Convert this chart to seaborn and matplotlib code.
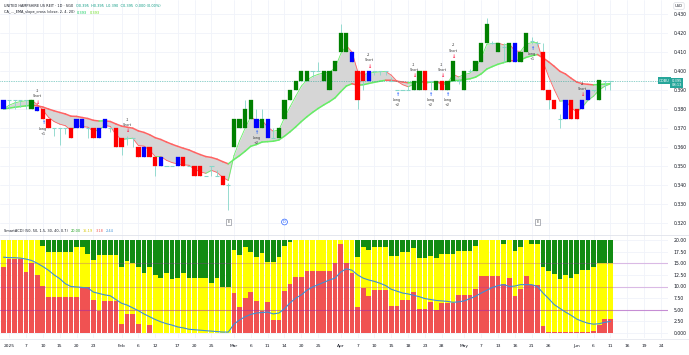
import numpy as np
import pandas as pd
import matplotlib
matplotlib.use("Agg")
import matplotlib.pyplot as plt
from matplotlib.lines import Line2D
import seaborn as sns

W, H = 689, 355

# daily candles (Jan 2 .. Jun 11 2025), one entry per session
opens = [.385, .385, .385, .385, .385, .380, .381, .380, .375, .370,
         .370, .370, .370, .370, .375, .370, .370, .365, .370, .370,
         .370, .365, .365, .365, .360, .355, .360, .355, .350, .350,
         .350, .355, .355, .350, .350, .350, .345, .350, .345, .345,
         .340, .360, .370, .370, .375, .375, .370, .375, .365, .365,
         .375, .385, .390, .395, .395, .400, .400, .395, .390, .400,
         .410, .410, .410, .400, .400, .395, .400, .400, .400, .395,
         .390, .390, .390, .390, .390, .400, .395, .390, .395, .390,
         .395, .395, .390, .400, .400, .405, .415, .415, .410, .4125,
         .405, .415, .405, .410, .416, .415, .410, .390, .385, .375,
         .375, .385, .380, .380, .385, .390, .385, .395, .395]
closes = [.380, .385, .385, .385, .385, .385, .379, .375, .370, .370,
          .370, .370, .365, .375, .370, .370, .365, .370, .375, .370,
          .360, .360, .365, .365, .355, .360, .355, .350, .355, .350,
          .350, .350, .350, .350, .345, .345, .345, .350, .345, .340,
          .340, .375, .375, .380, .385, .370, .375, .365, .365, .370,
          .385, .390, .395, .400, .400, .400, .400, .400, .400, .405,
          .420, .420, .405, .385, .395, .400, .400, .400, .400, .395,
          .390, .390, .390, .395, .400, .390, .395, .395, .390, .395,
          .405, .395, .400, .400, .405, .415, .425, .415, .415, .4125,
          .415, .405, .410, .420, .416, .415, .390, .385, .380, .375,
          .385, .375, .375, .385, .390, .390, .395, .395, .395]
highs = [.385, .385, .385, .385, .385, .385, .381, .380, .375, .370,
         .370, .370, .370, .375, .375, .370, .370, .370, .375, .370,
         .370, .365, .366, .365, .360, .360, .360, .355, .355, .350,
         .350, .355, .355, .350, .350, .350, .345, .350, .348, .345,
         .341, .375, .375, .385, .385, .380, .380, .375, .370, .370,
         .385, .390, .395, .400, .400, .400, .405, .400, .400, .405,
         .425, .420, .410, .400, .400, .400, .400, .400, .400, .397,
         .390, .390, .392, .395, .400, .400, .395, .395, .395, .395,
         .405, .396, .400, .401, .405, .415, .428, .416, .415, .415,
         .415, .415, .410, .420, .418, .416, .415, .390, .385, .3775,
         .385, .385, .380, .385, .390, .390, .395, .395, .395]
lows = [.380, .380, .380, .381, .380, .380, .379, .375, .370, .366,
        .361, .367, .365, .370, .370, .365, .365, .365, .370, .368,
        .360, .356, .361, .360, .355, .355, .355, .345, .350, .350,
        .350, .350, .350, .350, .345, .345, .345, .345, .345, .340,
        .327, .360, .370, .370, .375, .370, .370, .365, .365, .365,
        .375, .385, .390, .395, .395, .397, .400, .395, .390, .400,
        .410, .410, .405, .380, .390, .395, .398, .398, .398, .395,
        .390, .390, .390, .390, .390, .390, .390, .390, .390, .390,
        .395, .393, .390, .400, .400, .405, .415, .414, .410, .405,
        .405, .405, .405, .410, .414, .413, .390, .380, .380, .370,
        .375, .375, .375, .380, .385, .389, .385, .390, .390]
# candle colour: g green, r red, b blue, d doji
kinds = ("bddddgbrrd" "ddrbbdrbbd" "rrddrbrrbd" "dbrdrrdddr" "dggggbgbdg"
         "gggggddggg" "ggbrrbdddd" "dddggrdgrg" "gdgdgggdgd" "gbggddrrrd"
         "brrbbdgdd")

# trade signals
short_bars = [6, 22, 65, 73, 78, 80, 103]
short_size = ["-1", "-1", "-2", "-1", "-1", "-2", "-2"]
long_bars = [7, 45, 70, 76, 79, 94]
long_size = ["+1", "+2", "+2", "+2", "+2", "+1"]
earn_bars = [40, 95]
div_bars = [50]

# SmartACDI pane
acdi_red = [14.3, 15.9, 15.9, 15.9, 13.2, 15.0, 12.5, 10.1, 7.7, 7.7,
            7.7, 7.7, 7.7, 7.7, 9.8, 9.8, 7.1, 4.8, 6.8, 6.8,
            6.8, 1.9, 4.1, 4.1, 1.9, 0.0, 1.8, 0.0, 0.0, 0.0,
            0.0, 0.0, 0.0, 0.0, 0.0, 0.0, 0.0, 0.0, 0.0, 0.0,
            0.0, 8.6, 5.5, 7.5, 8.8, 6.8, 4.8, 6.6, 2.9, 2.9,
            9.1, 10.5, 12.0, 12.0, 13.4, 13.4, 13.4, 13.4, 13.4, 15.0,
            19.1, 15.0, 12.9, 5.5, 9.6, 8.0, 9.3, 9.3, 9.3, 5.9,
            5.9, 7.2, 7.2, 8.8, 5.2, 5.2, 6.6, 5.0, 6.4, 6.4,
            6.4, 8.1, 8.1, 8.1, 9.5, 12.3, 12.3, 12.3, 12.3, 10.5,
            11.8, 8.0, 9.4, 12.3, 10.4, 10.4, 1.6, 0.2, 0.2, 0.3,
            0.2, 0.2, 0.3, 0.3, 0.3, 0.4, 1.8, 3.1, 3.1]
acdi_green = [0, 0, 0, 0, 0, 0, 0, 1.2, 2.6, 2.6,
              2.6, 2.6, 2.6, 1.4, 1.6, 3.1, 4.3, 3.2, 3.2, 3.2,
              3.2, 5.9, 4.6, 5.0, 5.9, 7.1, 5.9, 7.5, 8.2, 7.1,
              8.3, 8.2, 7.1, 8.1, 8.1, 8.1, 8.1, 9.3, 8.2, 10.2,
              10.2, 2.1, 3.2, 1.6, 2.6, 3.7, 2.9, 4.8, 4.8, 3.7,
              1.2, 0.5, 0, 0, 0, 0, 0, 0, 0, 0,
              0, 0, 0, 3.7, 1.4, 2.1, 1.6, 1.6, 1.6, 3.4,
              3.4, 2.6, 2.6, 1.8, 3.8, 3.8, 3.4, 3.9, 3.1, 3.1,
              3.1, 2.3, 2.3, 2.3, 1.3, 0, 0, 0, 0, 0.9,
              0, 2.3, 1.4, 0, 0.9, 0.9, 5.9, 6.6, 7.4, 8.4,
              7.5, 8.1, 7.4, 6.4, 6.4, 5.7, 5.0, 4.9, 4.9]
acdi_signal = [16.3, 16.2, 16.2, 16.1, 15.9, 15.6, 15.0, 14.3, 13.5, 12.5,
               11.7, 10.6, 10.0, 9.9, 9.8, 9.7, 8.8, 8.5, 8.2, 8.0,
               7.2, 6.4, 6.0, 5.4, 4.8, 4.1, 3.5, 2.9, 2.4, 2.0,
               1.7, 1.3, 1.1, 0.8, 0.7, 0.6, 0.5, 0.4, 0.3, 0.2,
               0.2, 1.9, 2.8, 3.5, 4.0, 4.3, 4.4, 4.5, 4.1, 4.3,
               5.2, 6.5, 7.5, 8.2, 9.2, 9.9, 10.4, 10.9, 11.4, 11.8,
               13.1, 13.8, 13.5, 12.5, 11.8, 11.4, 11.1, 10.7, 10.2, 9.4,
               9.0, 8.6, 8.4, 8.1, 7.8, 7.4, 7.2, 7.0, 6.9, 6.8,
               6.6, 6.7, 6.9, 7.4, 7.9, 8.6, 9.2, 9.8, 10.2, 10.4,
               10.0, 10.1, 10.4, 10.4, 10.4, 10.0, 8.6, 7.4, 6.1, 5.3,
               4.5, 3.8, 3.0, 2.5, 2.1, 1.9, 2.0, 2.3, 2.5]

tick_bars = [1, 4, 7, 10, 13, 16, 21, 24, 27, 31, 34, 37, 41, 44, 47, 50, 53, 56, 60,
             63, 66, 69, 72, 75, 78, 82, 85, 88, 91, 94, 97, 102, 105, 108, 111, 114, 117]
tick_labels = ["2025", "7", "10", "15", "20", "23", "Feb", "6", "12", "17", "20", "25",
               "Mar", "6", "11", "14", "20", "25", "Apr", "7", "10", "15", "18", "23",
               "28", "May", "7", "13", "16", "21", "26", "Jun", "6", "11", "16", "19", "24"]

GREEN, RED, BLUE, TEAL = "#008000", "#ff0000", "#0000ff", "#86d6c9"
UP_LINE, DN_LINE = "#66ee66", "#ff6363"
TXT = "#131722"
GRID = "#f0f3fa"

sns.set_theme(style="white")
plt.rcParams["font.family"] = ["DejaVu Sans"]

fig = plt.figure(figsize=(W / 100, H / 100), dpi=100, facecolor="white")


def fy(py):
    return 1 - py / H


def fx(px):
    return px / W


ax1 = fig.add_axes([0, fy(234), fx(668), 234 / H])
ax2 = fig.add_axes([0, fy(338), fx(668), (338 - 234) / H])

n = len(closes)
idx = np.arange(n)
xlim = (-0.623, 118.24)

# ---------- price pane ----------
close_s = pd.Series(closes)
ema_fast = close_s.ewm(span=4, adjust=False).mean().to_numpy()
ema_slow = close_s.ewm(span=20, adjust=False).mean().to_numpy()

ax1.fill_between(idx, ema_fast, ema_slow, color="#d6d6d6", lw=0, zorder=1)


def slope_line(ax, y, lw):
    for i in range(len(y) - 1):
        col = UP_LINE if y[i + 1] >= y[i] else DN_LINE
        ax.plot([i, i + 1], [y[i], y[i + 1]], color=col, lw=lw,
                solid_capstyle="round", zorder=2)


slope_line(ax1, ema_slow, 1.1)
slope_line(ax1, ema_fast, 0.6)

body_col = {"g": GREEN, "r": RED, "b": BLUE}
for i in range(n):
    ax1.vlines(i, lows[i], highs[i], color=TEAL, lw=0.6, zorder=3)
    k = kinds[i]
    if k == "d":
        ax1.hlines(opens[i], i - 0.38, i + 0.38, color=TEAL, lw=0.8, zorder=4)
    else:
        lo, hi = min(opens[i], closes[i]), max(opens[i], closes[i])
        ax1.bar(i, max(hi - lo, 0.0006), bottom=lo, width=0.76,
                color=body_col[k], edgecolor=body_col[k], lw=0.2, zorder=4)

ppx = 1 / 1900  # price per pixel
lab = dict(ha="center", va="center", fontsize=2.4, color="#333333", zorder=6)
for i, t in zip(short_bars, short_size):
    ax1.text(i, highs[i] + 5 * ppx, "↓", color="#ff1744", ha="center", va="center",
             fontsize=3.6, fontweight="bold", zorder=6)
    ax1.text(i, highs[i] + 11 * ppx, "Short", **lab)
    ax1.text(i, highs[i] + 16 * ppx, t, **lab)
for i, t in zip(long_bars, long_size):
    ax1.text(i, lows[i] - 4 * ppx, "↑", color="#2962ff", ha="center", va="center",
             fontsize=3.6, fontweight="bold", zorder=6)
    ax1.text(i, lows[i] - 10 * ppx, "Long", **lab)
    ax1.text(i, lows[i] - 15 * ppx, t, **lab)

ev_y = 0.400 - (222 - 71) * ppx
for i in earn_bars:
    ax1.text(i, ev_y, "E", ha="center", va="center", fontsize=2.6, color="#555",
             bbox=dict(boxstyle="square,pad=0.35", fc="white", ec="#787b86", lw=0.4))
for i in div_bars:
    ax1.text(i, ev_y, "D", ha="center", va="center", fontsize=2.6, color="#2962ff",
             bbox=dict(boxstyle="circle,pad=0.25", fc="white", ec="#2962ff", lw=0.5))

ax1.axhline(closes[-1], color="#26a69a", lw=0.5, ls=(0, (1, 1.5)), zorder=2)

price_ticks = np.round(np.arange(0.32, 0.4301, 0.01), 3)
ax1.set_yticks(price_ticks)
ax1.set_yticklabels([f"{v:.3f}" for v in price_ticks])
ax1.set_ylim(0.400 - (234 - 71) * ppx, 0.400 + 71 * ppx)
ax1.set_xlim(*xlim)
ax1.set_xticks(tick_bars)
ax1.tick_params(axis="x", labelbottom=False, length=0)

# ---------- SmartACDI pane ----------
df = pd.DataFrame({"bar": idx, "top": 20.0,
                   "yellow": 20 - np.array(acdi_green),
                   "red": acdi_red, "signal": acdi_signal})
bar_kw = dict(x="bar", width=0.84, saturation=1, errorbar=None, ax=ax2, lw=0)
sns.barplot(data=df, y="top", color="#128c12", **bar_kw)
sns.barplot(data=df, y="yellow", color="#ffff00", **bar_kw)
sns.barplot(data=df, y="red", color="#f05252", **bar_kw)
for lvl, a in [(15, 0.28), (10, 0.28), (5, 0.5)]:
    ax2.axhline(lvl, color="#9c27b0", alpha=a, lw=0.8, zorder=5)
sns.lineplot(data=df, x="bar", y="signal", color="#3d8fd6", lw=0.8, ax=ax2, zorder=6)

acdi_ticks = np.arange(0, 20.01, 2.5)
ax2.set_yticks(acdi_ticks)
ax2.set_yticklabels(["0.000"] + [f"{v:.2f}" for v in acdi_ticks[1:]])
ax2.set_ylim((333 - 338) * 20 / 93, (333 - 234) * 20 / 93)
ax2.set_xlim(*xlim)
ax2.set_xticks(tick_bars)
ax2.set_xticklabels(tick_labels)
ax2.set_xlabel("")
ax2.set_ylabel("")
ax2.tick_params(axis="x", length=0, pad=4, labelsize=3.2, colors=TXT)

for ax in (ax1, ax2):
    ax.yaxis.tick_right()
    ax.tick_params(axis="y", length=0, pad=4.2, labelsize=3.3, colors=TXT)
    ax.grid(True, color=GRID, lw=0.6)
    ax.set_axisbelow(True)
    for s in ax.spines.values():
        s.set_visible(False)

fig.add_artist(Line2D([0, 1], [fy(234.5)] * 2, color="#e0e3eb", lw=0.6))
fig.add_artist(Line2D([0, 1], [fy(338.5)] * 2, color="#e0e3eb", lw=0.5))

# ---------- header texts (pieces placed one after another) ----------
renderer = fig.canvas.get_renderer()


def text_row(x0, y, parts, size=2.5, gap=2.5):
    x = x0
    for s, col in parts:
        t = fig.text(fx(x), fy(y), s, color=col, fontsize=size, va="center", ha="left")
        x += t.get_window_extent(renderer).width + gap


text_row(4, 6, [("UNITED HAMPSHIRE US REIT · 1D · SGX", TXT),
                ("O0.395  H0.395  L0.390  C0.395  0.000 (0.00%)", "#089981")])
text_row(4, 12.5, [("CA_..._EMA_slope_cross (close, 2, 4, 20)", TXT),
                   (f"{ema_slow[-1]:.3f}", "#00c853"),
                   (f"{ema_fast[-1]:.3f}", "#64dd17")])
text_row(4, 231.5, [("SmartACDI (50, 50, 1.5, 30, 40, 0.7)", TXT),
                    ("20.00", "#1b9e1b"), ("15.19", "#d4c400"),
                    ("3.18", "#f05252"), ("2.44", "#3d8fd6")])

fig.text(fx(679), fy(6), "USD", fontsize=2.6, color=TXT, ha="center", va="center",
         bbox=dict(boxstyle="round,pad=0.35", fc="white", ec="#d1d4dc", lw=0.4))
fig.text(fx(671.5), fy(83), "0.395\n08:13", fontsize=2.6, color="white", ha="left",
         va="center", linespacing=1.1,
         bbox=dict(boxstyle="square,pad=0.3", fc="#26a69a", ec="none"))
fig.text(fx(669.5), fy(80.5), "ODBU", fontsize=2.6, color="white", ha="right", va="center",
         bbox=dict(boxstyle="square,pad=0.3", fc="#26a69a", ec="none"))

fig.savefig("out.png", dpi=100, facecolor="white")
